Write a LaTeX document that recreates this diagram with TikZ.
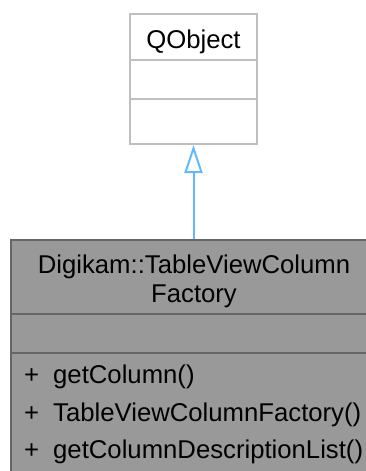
\documentclass[tikz,border=0pt]{standalone}
\usepackage{fontspec}
\setmainfont{Liberation Sans}
\usetikzlibrary{arrows.meta}
\definecolor{qborder}{HTML}{BFBFBF}
\definecolor{fborder}{HTML}{666666}
\definecolor{ffill}{HTML}{999999}
\definecolor{arrowblue}{HTML}{63B8FF}
\begin{document}
\begin{tikzpicture}[x=1pt,y=-1pt,
  umltext/.style={inner sep=0pt,font=\fontsize{25.7pt}{30pt}\selectfont,text=black},
  qbox/.style={draw=qborder,fill=white,line width=2pt,inner sep=0pt},
  fbox/.style={draw=fborder,fill=ffill,line width=2pt,inner sep=0pt},
  inherit/.style={draw=arrowblue,line width=2pt,-{Triangle[open,length=28pt,width=18pt,line width=2pt]}}]
\useasboundingbox (0,0) rectangle (366,471);
\clip (0,0) rectangle (366,471);
\fill[white] (0,0) rectangle (366,471);
% QObject
\node[qbox,minimum width=127pt,minimum height=130pt] (qobject) at (193.5,79) {};
\draw[qborder,line width=2pt] (qobject.west |- 0,60) coordinate (qd1) -- (qobject.east |- qd1);
\draw[qborder,line width=2pt] (qobject.west |- 0,99) coordinate (qd2) -- (qobject.east |- qd2);
\node[umltext,anchor=base] (qname) at (193.5,48) {QObject};
% Factory
\node[fbox,minimum width=367pt,minimum height=250pt] (factory) at (194.5,365) {};
\draw[fborder,line width=2pt] (factory.west |- 0,314) coordinate (fd1) -- (factory.east |- fd1);
\draw[fborder,line width=2pt] (factory.west |- 0,353) coordinate (fd2) -- (factory.east |- fd2);
\node[umltext,anchor=base] (ft1) at (194,273) {Digikam::TableViewColumn};
\node[umltext,anchor=base] (ft2) at (194,302) {Factory};
\node[umltext,anchor=base west] (p1) at (24,383) {+};
\node[umltext,anchor=base west] (m1) at (53,383) {getColumn()};
\node[umltext,anchor=base west] (p2) at (24,421) {+};
\node[umltext,anchor=base west] (m2) at (53,421) {TableViewColumnFactory()};
\node[umltext,anchor=base west] (p3) at (24,458) {+};
\node[umltext,anchor=base west] (m3) at (53,458) {getColumnDescriptionList()};
% inheritance
\draw[inherit] (factory.north -| qobject.south) -- (qobject.south);
\end{tikzpicture}
\end{document}
